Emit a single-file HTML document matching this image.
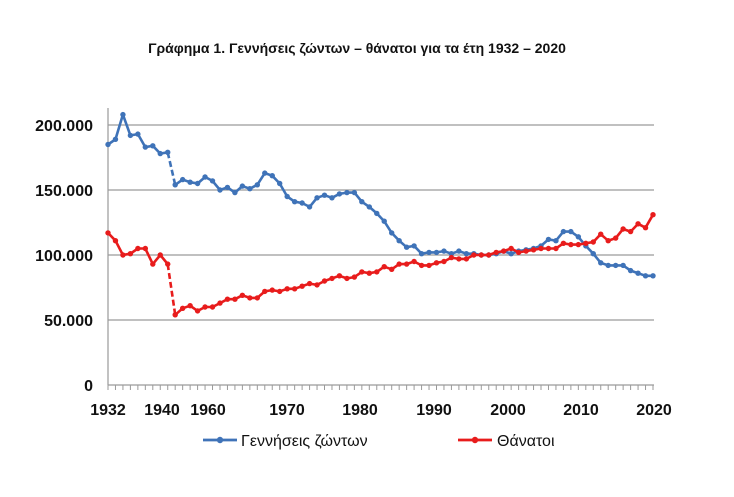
<!DOCTYPE html>
<html><head><meta charset="utf-8"><style>
body{margin:0;background:#fff;}
svg text{font-family:"Liberation Sans",sans-serif;font-weight:bold;fill:#111;}
</style></head><body>
<svg id="c" width="734" height="492" xmlns="http://www.w3.org/2000/svg">
<text x="357" y="53" font-size="14" text-anchor="middle">Γράφημα 1.  Γεννήσεις ζώντων – θάνατοι για τα έτη 1932 – 2020</text>
<g stroke="#9a9a9a" stroke-width="1.2">
<line x1="108" y1="125" x2="654" y2="125"/>
<line x1="108" y1="190" x2="654" y2="190"/>
<line x1="108" y1="255" x2="654" y2="255"/>
<line x1="108" y1="320" x2="654" y2="320"/>
<line x1="108" y1="385" x2="654" y2="385"/>
<line x1="108" y1="108" x2="108" y2="385"/>
</g>
<g font-size="16" text-anchor="end">
<text x="93" y="131">200.000</text>
<text x="93" y="196">150.000</text>
<text x="93" y="261">100.000</text>
<text x="93" y="326">50.000</text>
<text x="93" y="391">0</text>
</g>
<g font-size="16" text-anchor="middle">
<text x="108" y="415">1932</text>
<text x="162" y="415">1940</text>
<text x="208" y="415">1960</text>
<text x="287" y="415">1970</text>
<text x="360" y="415">1980</text>
<text x="434" y="415">1990</text>
<text x="508" y="415">2000</text>
<text x="581" y="415">2010</text>
<text x="654" y="415">2020</text>
</g>
<g id="ticks" stroke="#9a9a9a" stroke-width="1"></g>
<g id="series"></g>
<g>
<line x1="203" y1="440" x2="237" y2="440" stroke="#3f73b8" stroke-width="2.8"/>
<circle cx="220" cy="440" r="3.2" fill="#3f73b8"/>
<text x="241" y="446" font-size="16" style="font-weight:normal">Γεννήσεις ζώντων</text>
<line x1="458" y1="440" x2="492" y2="440" stroke="#e81c1c" stroke-width="2.8"/>
<circle cx="475" cy="440" r="3.2" fill="#e81c1c"/>
<text x="497" y="446" font-size="16" style="font-weight:normal">Θάνατοι</text>
</g>
</svg>
<script>
var births=[185,189,208,192,193,183,184,178,179,
154,158,156,155,160,157,150,152,148,153,
151,154,163,161,155,145,141,140,137,144,
146,144,147,148,148,141,137,132,126,117,111,106,107,101,
102,102,103,101,103,101,101,100,100,101,
103,101,103,104,105,107,112,111,118,118,
114,107,101,94,92,92,92,88,86,84,84];
var deaths=[117,111,100,101,105,105,93,100,93,
54,59,61,57,60,60,63,66,66,69,
67,67,72,73,72,74,74,76,78,77,
80,82,84,82,83,87,86,87,91,89,
93,93,95,92,92,94,95,98,97,97,
100,100,100,102,103,105,102,103,104,105,
105,105,109,108,108,109,110,116,111,113,
120,118,124,121,131];
var NS="http://www.w3.org/2000/svg";
function X(i){return 108+i*(545/73);}
function Y(v){return 385-v*1.3;}
var t=document.getElementById("ticks");
for(var i=0;i<74;i++){var l=document.createElementNS(NS,"line");l.setAttribute("x1",X(i));l.setAttribute("x2",X(i));l.setAttribute("y1",385);l.setAttribute("y2",390);t.appendChild(l);}
var s=document.getElementById("series");
function draw(d,col){
 function pl(a,b,dash){var p=[];for(var i=a;i<=b;i++)p.push(X(i).toFixed(1)+","+Y(d[i]).toFixed(1));
  var e=document.createElementNS(NS,"polyline");e.setAttribute("points",p.join(" "));e.setAttribute("fill","none");e.setAttribute("stroke",col);e.setAttribute("stroke-width","2.6");e.setAttribute("stroke-linejoin","round");if(dash)e.setAttribute("stroke-dasharray","6,3");s.appendChild(e);}
 pl(0,8);pl(8,9,true);pl(9,d.length-1);
 for(var i=0;i<d.length;i++){var c=document.createElementNS(NS,"circle");c.setAttribute("cx",X(i));c.setAttribute("cy",Y(d[i]));c.setAttribute("r",2.7);c.setAttribute("fill",col);s.appendChild(c);}
}
draw(births,"#3f73b8");draw(deaths,"#e81c1c");
</script>
</body></html>
